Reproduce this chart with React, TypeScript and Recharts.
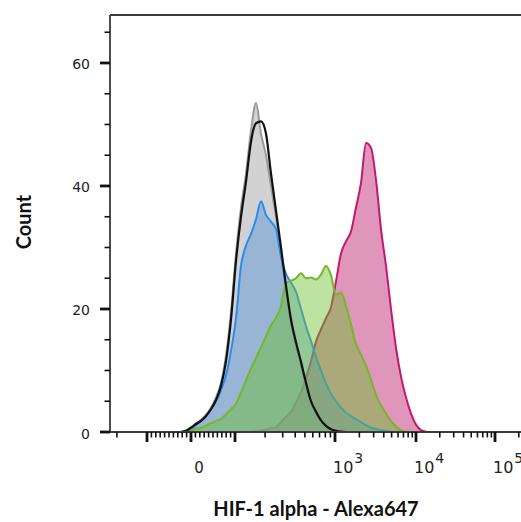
import React from "react";
import { ComposedChart, Area, Line, XAxis, YAxis, ReferenceLine } from "recharts";

// display channel of the biexponential axis (0 = zero intensity)
const CHANNELS = [
  -10, -5, 0, 5, 10, 15, 20, 25, 30, 35, 40, 45, 50, 55, 60, 65, 70, 75, 80, 85,
  90, 95, 100, 105, 110, 115, 120, 125, 130, 135, 140, 145, 150, 155, 160, 165,
  170, 175, 180, 185, 190, 195, 200, 205, 210, 215, 220, 225, 230, 235, 240,
];

const GRAY_COUNTS = [
  0, 0.2, 0.7, 1.4, 2, 2.8, 4, 5.6, 8, 12.5, 19.5, 29, 36.5, 42, 49, 53.5, 48.5, 45,
  40, 35, 29, 23, 17.8, 14, 10.8, 7.5, 4.8, 3, 1.8, 1, 0.4, 0.1, 0, 0, 0, 0, 0, 0, 0,
  0, 0, 0, 0, 0, 0, 0, 0, 0, 0, 0, 0,
];
const BLACK_COUNTS = [
  0, 0.2, 0.7, 1.3, 1.8, 2.6, 3.7, 5.2, 7.5, 11.5, 18.3, 27.8, 35, 40.7, 47.2, 50.2,
  50.5, 48.5, 42, 36, 30, 23.8, 18.3, 14.6, 11.4, 8, 5, 3.3, 1.9, 1, 0.45, 0.2, 0.05,
  0, 0, 0, 0, 0, 0, 0, 0, 0, 0, 0, 0, 0, 0, 0, 0, 0, 0,
];
const BLUE_COUNTS = [
  0, 0.1, 0.4, 1.1, 1.8, 2.6, 3.7, 5, 6.8, 9.2, 13.2, 18.5, 27, 30.3, 32.2, 34.6, 37.5,
  35.3, 34.2, 33, 28.5, 25.7, 24.3, 22.8, 20, 17.2, 14.8, 12.2, 10, 7.9, 6.2, 5, 4,
  3.1, 2.6, 2.1, 1.6, 1.1, 0.7, 0.5, 0.3, 0.2, 0.05, 0, 0, 0, 0, 0, 0, 0, 0,
];
const GREEN_COUNTS = [
  0, 0.1, 0.3, 0.5, 0.7, 1, 1.4, 1.8, 2.1, 2.9, 3.7, 4.6, 6.4, 8.4, 10.3, 12, 13.8,
  15.6, 17.3, 18.6, 20.5, 24.2, 24.6, 25, 25.8, 25, 25.1, 24.8, 25.6, 27, 25.5, 22.3,
  22.7, 20.5, 17.5, 14.3, 12.6, 10.8, 8.5, 6, 4.3, 3, 1.8, 0.9, 0.3, 0.05, 0, 0, 0, 0, 0,
];
const PINK_COUNTS = [
  0, 0, 0, 0, 0, 0, 0, 0, 0, 0, 0, 0, 0, 0, 0.05, 0.1, 0.2, 0.4, 0.6, 0.8, 1.6, 2.5,
  3.3, 4.8, 6.5, 8.8, 11.5, 14.7, 16.7, 18.5, 20.3, 24.5, 29, 31, 32.6, 36.5, 40.5,
  47, 46.2, 41, 33, 27, 20, 13.7, 9, 5.6, 3, 1.2, 0.3, 0.05, 0,
];

const X_LABELS: Record<number, string> = { 0: "0", 1000: "3", 10000: "4", 100000: "5" };
const X_MAJOR = [-100, 0, 100, 1000, 10000, 100000];
const Y_TICKS = [0, 5, 10, 15, 20, 25, 30, 35, 40, 45, 50, 55, 60, 65];
const Y_LABELED = [0, 20, 40, 60];

const X_DOMAIN: [number, number] = [-81, 330];
const Y_MAX = 67.8;
const AXIS = "#3a3a3a";
const TICK_FONT = "'DejaVu Sans', Verdana, sans-serif";
const TITLE_FONT = "Lato, 'Liberation Sans', sans-serif";

// logicle-like display transform: linear near zero, log per decade above 100
const DECADE_CH = [44, 144, 225, 304];
function toChannel(v: number) {
  const a = Math.abs(v);
  const s = Math.sign(v);
  if (a <= 100) return s * a * 0.44;
  const d = Math.log10(a);
  const i = Math.min(Math.floor(d) - 2, 2);
  const lo = DECADE_CH[i];
  const hi = DECADE_CH[i + 1];
  return s * (lo + (hi - lo) * (d - (i + 2)));
}

const tickValues: number[] = [...X_MAJOR, -200];
for (let k = 1; k <= 9; k++) tickValues.push(k * 10, -k * 10);
for (const dec of [100, 1000, 10000, 100000]) {
  for (let k = 2; k <= 9; k++) tickValues.push(k * dec);
}
const xTicks = tickValues
  .map((v) => ({ v, ch: toChannel(v) }))
  .filter((t) => t.ch >= X_DOMAIN[0] && t.ch <= X_DOMAIN[1])
  .sort((a, b) => a.ch - b.ch);

const data = CHANNELS.map((ch, i) => ({
  ch,
  gray: GRAY_COUNTS[i],
  black: BLACK_COUNTS[i],
  blue: BLUE_COUNTS[i],
  green: GREEN_COUNTS[i],
  pink: PINK_COUNTS[i],
}));

function XTick(props: any) {
  const { x, y, payload } = props;
  const t = xTicks.reduce((best, c) =>
    Math.abs(c.ch - payload.value) < Math.abs(best.ch - payload.value) ? c : best
  );
  const major = X_MAJOR.includes(t.v);
  const label = X_LABELS[t.v];
  return (
    <g>
      <line x1={x} x2={x} y1={y} y2={y + (major ? 10 : 5.5)} stroke="#111" strokeWidth={major ? 2.8 : 1.6} />
      {label === "0" && (
        <text x={x + 8} y={y + 41} textAnchor="middle" fontSize={15} fontFamily={TICK_FONT} fill="#222">
          0
        </text>
      )}
      {label && label !== "0" && (
        <text x={x - 2} y={y + 41} textAnchor="start" fontSize={16} fontFamily={TICK_FONT} fill="#222">
          10
          <tspan dx={1} dy={-10} fontSize={14}>{label}</tspan>
        </text>
      )}
    </g>
  );
}

function YTick(props: any) {
  const { x, y, payload } = props;
  const major = Y_LABELED.includes(payload.value);
  return (
    <g>
      <line x1={x - (major ? 10 : 5.5)} x2={x} y1={y} y2={y} stroke="#111" strokeWidth={major ? 2.8 : 1.6} />
      {major && (
        <text x={x - 20} y={y + 6.5} textAnchor="end" fontSize={14} fontFamily={TICK_FONT} fill="#222">
          {payload.value}
        </text>
      )}
    </g>
  );
}

export default function App() {
  return (
    <div style={{ position: "absolute", left: 0, top: 0, width: 521, height: 522, background: "#fff" }}>
      <ComposedChart width={521} height={522} data={data} margin={{ top: 15, right: 0, bottom: 0, left: 0 }}>
        <XAxis
          type="number"
          dataKey="ch"
          domain={X_DOMAIN}
          allowDataOverflow
          ticks={xTicks.map((t) => t.ch)}
          interval={0}
          tick={(p: any) => <XTick {...p} />}
          tickLine={false}
          tickSize={0}
          tickMargin={0}
          height={90}
          axisLine={{ stroke: AXIS, strokeWidth: 1.8 }}
        />
        <YAxis
          type="number"
          domain={[0, Y_MAX]}
          allowDataOverflow
          ticks={Y_TICKS}
          interval={0}
          tick={(p: any) => <YTick {...p} />}
          tickLine={false}
          tickSize={0}
          tickMargin={0}
          width={110}
          axisLine={{ stroke: AXIS, strokeWidth: 1.8 }}
        />
        <ReferenceLine y={Y_MAX} stroke={AXIS} strokeWidth={1.8} />
        <Area type="monotone" dataKey="pink" stroke="#c2186f" strokeWidth={2} fill="rgb(193,45,119)" fillOpacity={0.5} dot={false} activeDot={false} isAnimationActive={false} />
        <Area type="monotone" dataKey="gray" stroke="#9a9a9a" strokeWidth={2} fill="rgb(180,180,180)" fillOpacity={0.6} dot={false} activeDot={false} isAnimationActive={false} />
        <Area type="monotone" dataKey="blue" stroke="#2a8cf0" strokeWidth={2} fill="rgb(68,138,218)" fillOpacity={0.4} dot={false} activeDot={false} isAnimationActive={false} />
        <Area type="monotone" dataKey="green" stroke="#74b82a" strokeWidth={2} fill="rgb(106,193,44)" fillOpacity={0.45} dot={false} activeDot={false} isAnimationActive={false} />
        <Line type="monotone" dataKey="black" stroke="#111" strokeWidth={2.2} dot={false} activeDot={false} isAnimationActive={false} />
        <text x={23} y={222} transform="rotate(-90 23 222)" textAnchor="middle" dominantBaseline="central" fontSize={20} fontWeight="bold" fontFamily={TITLE_FONT} fill="#111">
          Count
        </text>
        <text x={316} y={516} textAnchor="middle" fontSize={20} fontWeight="bold" fontFamily={TITLE_FONT} fill="#111">
          HIF-1 alpha - Alexa647
        </text>
      </ComposedChart>
    </div>
  );
}
